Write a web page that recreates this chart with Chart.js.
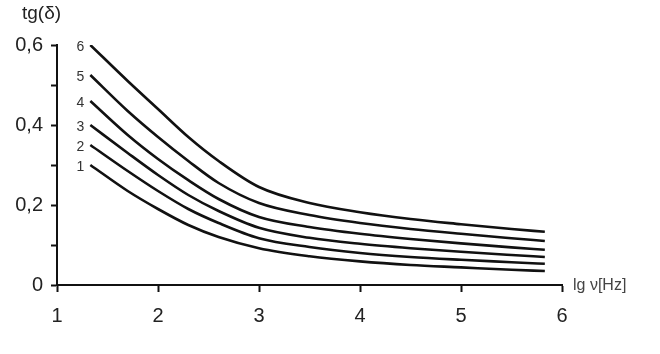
<!DOCTYPE html>
<html>
<head>
<meta charset="utf-8">
<script src="https://cdn.jsdelivr.net/npm/chart.js@4.4.1/dist/chart.umd.min.js"></script>
<style>
  html, body { margin: 0; padding: 0; background: #fff; }
  #wrap { width: 660px; height: 354px; }
</style>
</head>
<body>
<div id="wrap"><canvas id="chart" width="660" height="354"></canvas></div>
<script>
/* ================= DATA ================= */
const lgNu = [1.33, 1.7, 2.0, 2.3, 2.6, 3.0, 3.5, 4.0, 4.5, 5.0, 5.5, 5.83];

const tan1 = [0.300, 0.235, 0.190, 0.150, 0.120, 0.092, 0.072, 0.059, 0.050, 0.044, 0.038, 0.035];
const tan2 = [0.350, 0.285, 0.235, 0.190, 0.155, 0.117, 0.095, 0.080, 0.070, 0.063, 0.057, 0.053];
const tan3 = [0.400, 0.330, 0.275, 0.225, 0.185, 0.143, 0.118, 0.103, 0.092, 0.083, 0.075, 0.070];
const tan4 = [0.460, 0.375, 0.315, 0.262, 0.215, 0.170, 0.145, 0.128, 0.115, 0.104, 0.094, 0.088];
const tan5 = [0.525, 0.435, 0.370, 0.310, 0.255, 0.205, 0.175, 0.155, 0.140, 0.128, 0.117, 0.110];
const tan6 = [0.600, 0.510, 0.440, 0.370, 0.310, 0.245, 0.205, 0.182, 0.165, 0.152, 0.140, 0.133];

const curveLabels = ["1", "2", "3", "4", "5", "6"];
const yTitle = "tg(δ)";
const xTitle = "lg ν[Hz]";

/* ================= BUILD ================= */
const series = [tan1, tan2, tan3, tan4, tan5, tan6];
const datasets = series.map((vals, k) => ({
  label: curveLabels[k],
  data: lgNu.map((x, i) => ({ x, y: vals[i] })),
  borderColor: "#111",
  borderWidth: 2.6,
  pointRadius: 0,
  fill: false,
  cubicInterpolationMode: "monotone"
}));

// numbers 1..6 next to the start of each curve + axis titles
const annotate = {
  id: "annotate",
  afterDatasetsDraw(chart) {
    const ctx = chart.ctx, area = chart.chartArea;
    ctx.save();
    ctx.fillStyle = "#333";
    ctx.font = "14px 'Liberation Sans', Arial, sans-serif";
    ctx.textAlign = "right";
    ctx.textBaseline = "middle";
    chart.data.datasets.forEach((ds, k) => {
      const p = chart.getDatasetMeta(k).data[0];
      ctx.fillText(ds.label, p.x - 6, p.y + 2);
    });

    ctx.fillStyle = "#222";
    ctx.textAlign = "left";
    ctx.font = "19px 'Liberation Sans', Arial, sans-serif";
    ctx.fillText(yTitle, 22, 14);

    ctx.fillStyle = "#444";
    ctx.font = "16px 'Liberation Sans', Arial, sans-serif";
    ctx.fillText(xTitle, area.right + 11, area.bottom + 1);
    ctx.restore();
  }
};

const tickFont = { family: "'Liberation Sans', Arial, sans-serif", size: 20 };

new Chart(document.getElementById("chart"), {
  type: "line",
  data: { datasets },
  options: {
    responsive: false,
    animation: false,
    layout: { padding: { left: 0, top: 45, right: 98, bottom: 0 } },
    plugins: { legend: { display: false }, tooltip: { enabled: false } },
    scales: {
      x: {
        type: "linear",
        min: 1, max: 6,
        ticks: { stepSize: 1, color: "#222", font: tickFont, padding: 12 },
        grid: { drawOnChartArea: false, color: "#111", tickLength: 7, tickWidth: 2 },
        border: { color: "#111", width: 2 },
        afterFit: s => { s.height = 69; }
      },
      y: {
        min: 0, max: 0.6,
        ticks: {
          stepSize: 0.1, color: "#222", font: tickFont, padding: 8,
          callback: (v, i) => i % 2 ? "" : (i === 0 ? "0" : v.toFixed(1).replace(".", ","))
        },
        grid: { drawOnChartArea: false, color: "#111", tickLength: 6, tickWidth: 2 },
        border: { color: "#111", width: 2 },
        afterFit: s => { s.width = 57; }
      }
    }
  },
  plugins: [annotate]
});
</script>
</body>
</html>
